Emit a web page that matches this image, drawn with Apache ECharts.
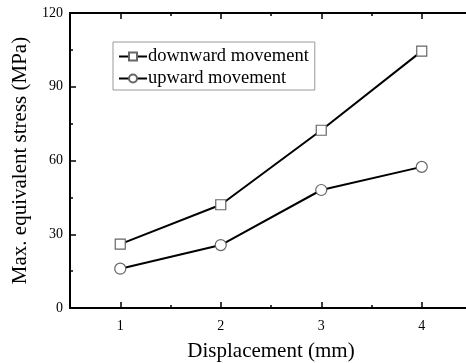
<!DOCTYPE html>
<html><head><meta charset="utf-8">
<script src="https://cdn.jsdelivr.net/npm/echarts@6/dist/echarts.min.js"></script>
<style>html,body{margin:0;padding:0;background:#fff}#c{width:466px;height:363px}</style>
</head><body><div id="c"></div>
<script>
const displacement = [1, 2, 3, 4];
const downward = [26, 42, 72.3, 104.5];
const upward = [16, 25.6, 48, 57.4];
const xTickLabels = [1, 2, 3, 4];
const yTickLabels = [0, 30, 60, 90, 120];
const seriesNames = ['downward movement', 'upward movement'];

const F = 'Liberation Serif';
const chart = echarts.init(document.getElementById('c'));
const lineStyle = {color: '#000', width: 2};
function xAx(pos, major, show) {
  return {
    type: 'value', position: pos, min: 0.5, max: 4.5, interval: 0.5,
    axisLine: {show: show, onZero: false, lineStyle: {color: '#000', width: 2}},
    axisTick: {show: true, inside: true, length: major ? 6 : 3, customValues: major ? xTickLabels : [1.5, 2.5, 3.5], lineStyle: {color: '#000', width: 1.5}},
    axisLabel: {show: pos === 'bottom' && major, customValues: xTickLabels, fontFamily: F, fontSize: 14, color: '#000', margin: 11},
    splitLine: {show: false},
    name: (pos === 'bottom' && major) ? 'Displacement (mm)' : '',
    nameLocation: 'middle', nameGap: 33,
    nameTextStyle: {fontFamily: F, fontSize: 21, color: '#000'}
  };
}
function yAx(pos) {
  return {
    type: 'value', position: pos, min: 0, max: 120, interval: 30,
    axisLine: {show: true, onZero: false, lineStyle: {color: '#000', width: 2}},
    axisTick: {show: true, inside: true, length: 6, lineStyle: {color: '#000', width: 1.5}},
    minorTick: {show: true, splitNumber: 2, length: 3, lineStyle: {color: '#000', width: 1.5}},
    axisLabel: {show: pos === 'left', customValues: yTickLabels, fontFamily: F, fontSize: 14, color: '#000', margin: 7},
    splitLine: {show: false}, minorSplitLine: {show: false},
    name: pos === 'left' ? 'Max. equivalent stress (MPa)' : '',
    nameLocation: 'middle', nameGap: 36,
    nameTextStyle: {fontFamily: F, fontSize: 21, color: '#000'}
  };
}
function mk(name, sym, vals) {
  return {
    name: name, type: 'line', xAxisIndex: 0, yAxisIndex: 0,
    data: displacement.map((x, i) => [x, vals[i]]),
    symbol: sym, symbolSize: sym === 'rect' ? 10 : 11,
    showAllSymbol: true,
    lineStyle: lineStyle,
    itemStyle: {color: '#fff', borderColor: '#666', borderWidth: 1.2},
    z: 3
  };
}
chart.setOption({
  animation: false,
  backgroundColor: '#fff',
  grid: {left: 70, top: 13, width: 402, bottom: 55, containLabel: false, outerBoundsMode: 'none'},
  xAxis: [xAx('bottom', true, true), xAx('bottom', false, false), xAx('top', true, true), xAx('top', false, false)],
  yAxis: [yAx('left'), yAx('right')],
  legend: {
    left: 113, top: 42, orient: 'vertical',
    width: 199, padding: [5, 6, 2, 5], itemGap: 3,
    borderColor: '#999', borderWidth: 1,
    itemWidth: 28, itemHeight: 10,
    textStyle: {fontFamily: F, fontSize: 18.5, color: '#000', padding: [0, 0, 0, -4]},
    data: seriesNames
  },
  series: [mk(seriesNames[0], 'rect', downward), mk(seriesNames[1], 'circle', upward)]
});
</script></body></html>
